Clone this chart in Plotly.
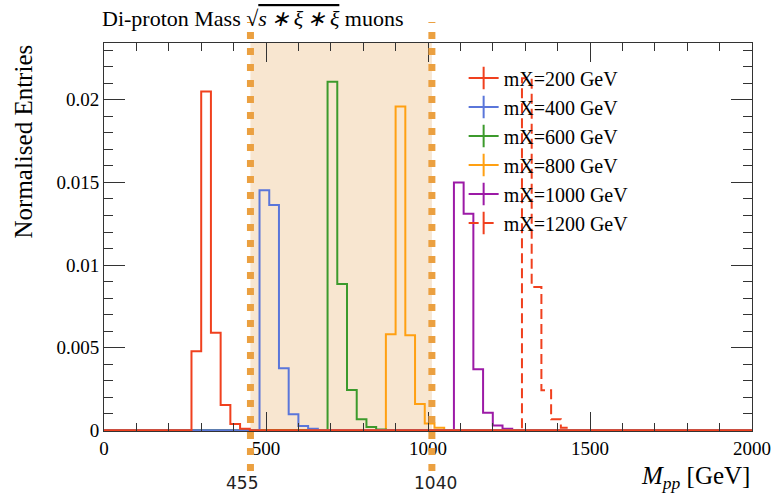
import plotly.graph_objects as go

# ---- data ----
bin_width = 30
x_min, x_max = 0, 2000
series_names = ["mX=200 GeV", "mX=400 GeV", "mX=600 GeV", "mX=800 GeV", "mX=1000 GeV", "mX=1200 GeV"]
series_start = [270, 480, 690, 870, 1080, 1290]
mx200 = [0.00479, 0.0205, 0.0059, 0.00153, 0.00038, 0.0001]
mx400 = [0.01453, 0.01364, 0.00375, 0.00097, 0.00026, 0.0001]
mx600 = [0.0211, 0.00885, 0.00244, 0.00067, 0.0002, 0.00005]
mx800 = [0.00582, 0.0196, 0.00576, 0.00159, 0.00042, 0.00016]
mx1000 = [0.0150, 0.0131, 0.00369, 0.00107, 0.0003, 0.0001]
mx1200 = [0.0213, 0.00867, 0.00242, 0.00067, 0.00016]
series_vals = [mx200, mx400, mx600, mx800, mx1000, mx1200]
colors = ["#f0401e", "#5a76da", "#3c9a2c", "#ffa012", "#9c1aa6", "#f0401e"]
dashes = ["solid", "solid", "solid", "solid", "solid", "10px,5px"]

window_lines = [452, 1012]
window_labels = ["455", "1040"]

y_ticks = [0, 0.005, 0.01, 0.015, 0.02]
y_tick_text = ["0", "0.005", "0.01", "0.015", "0.02"]
x_ticks = [0, 500, 1000, 1500, 2000]

serif = "Liberation Serif"

fig = go.Figure()

# draw histograms in reverse order so the solid red baseline ends on top
for name, start, vals, col, dash in list(zip(series_names, series_start, series_vals, colors, dashes))[::-1]:
    xs = [x_min] + [start + i * bin_width for i in range(len(vals) + 1)] + [x_max]
    ys = [0] + list(vals) + [0, 0]
    fig.add_trace(go.Scatter(x=xs, y=ys, mode="lines", line_shape="hv",
                             line=dict(color=col, width=2, dash=dash),
                             showlegend=False, hoverinfo="skip"))

for name, col, dash in zip(series_names, colors, dashes):
    fig.add_trace(go.Scatter(x=[None], y=[None], mode="lines+markers", name=name,
                             line=dict(color=col, width=2, dash=dash),
                             marker=dict(symbol="line-ns", size=18,
                                         line=dict(color=col, width=2))))

# shaded window
fig.add_shape(type="rect", xref="x", yref="paper", x0=window_lines[0], x1=window_lines[1],
              y0=0, y1=1, fillcolor="#f8e6d0", line_width=0, layer="below")
for xv, lab, xs in zip(window_lines, window_labels, [-8, 4]):
    fig.add_shape(type="line", xref="x", yref="paper", x0=xv, x1=xv, y0=-0.103, y1=1.054,
                  line=dict(color="#eba040", width=7, dash="7px,9px"), layer="above")
    fig.add_annotation(x=xv, xref="x", y=-0.134, yref="paper", text=lab, showarrow=False,
                       xshift=xs, font=dict(family="DejaVu Sans", size=17, color="#222"),
                       xanchor="center", yanchor="middle")

# titles
fig.add_annotation(x=0, xref="paper", y=1.064, yref="paper", xshift=-4,
                   text="Di-proton Mass √<span style='text-decoration:overline;font-style:italic'>s\u2009∗\u2009ξ\u2009∗\u2009ξ</span> muons",
                   showarrow=False, xanchor="left", yanchor="middle",
                   font=dict(family=serif, size=22, color="black"))
fig.add_annotation(x=1, xref="paper", y=-0.119, yref="paper",
                   text="<i>M<sub>pp</sub></i> [GeV]", showarrow=False,
                   xanchor="right", yanchor="middle",
                   font=dict(family=serif, size=25, color="black"))
fig.add_annotation(x=0, xref="paper", y=1, yref="paper", xshift=-66,
                   text="Normalised Entries", textangle=-90, showarrow=False,
                   xanchor="right", yanchor="top",
                   font=dict(family=serif, size=25, color="black"))

axis_common = dict(showline=True, linecolor="#333", linewidth=1, mirror="allticks",
                   ticks="inside", tickcolor="#333", tickwidth=1, showgrid=False,
                   zeroline=False, automargin=False,
                   tickfont=dict(family=serif, size=19, color="black"))

fig.update_xaxes(range=[x_min, x_max], tickvals=x_ticks, ticklen=19,
                 minor=dict(dtick=100, ticklen=8, ticks="inside", tickcolor="#333", showgrid=False),
                 **axis_common)
fig.update_yaxes(range=[-0.00004, 0.02344], tickvals=y_ticks, ticktext=y_tick_text, ticklen=21,
                 minor=dict(dtick=0.001, ticklen=9, ticks="inside", tickcolor="#333", showgrid=False),
                 **axis_common)

fig.update_layout(width=774, height=494,
                  margin=dict(l=104, r=22, t=43, b=63),
                  plot_bgcolor="white", paper_bgcolor="white",
                  font=dict(family=serif, color="black"),
                  legend=dict(x=0.555, y=0.96, xanchor="left", yanchor="top",
                              bgcolor="rgba(0,0,0,0)", font=dict(family=serif, size=20),
                              tracegroupgap=0))

fig.write_html("out.html", config={"displayModeBar": False},
               post_script="document.body.style.margin='0';")
